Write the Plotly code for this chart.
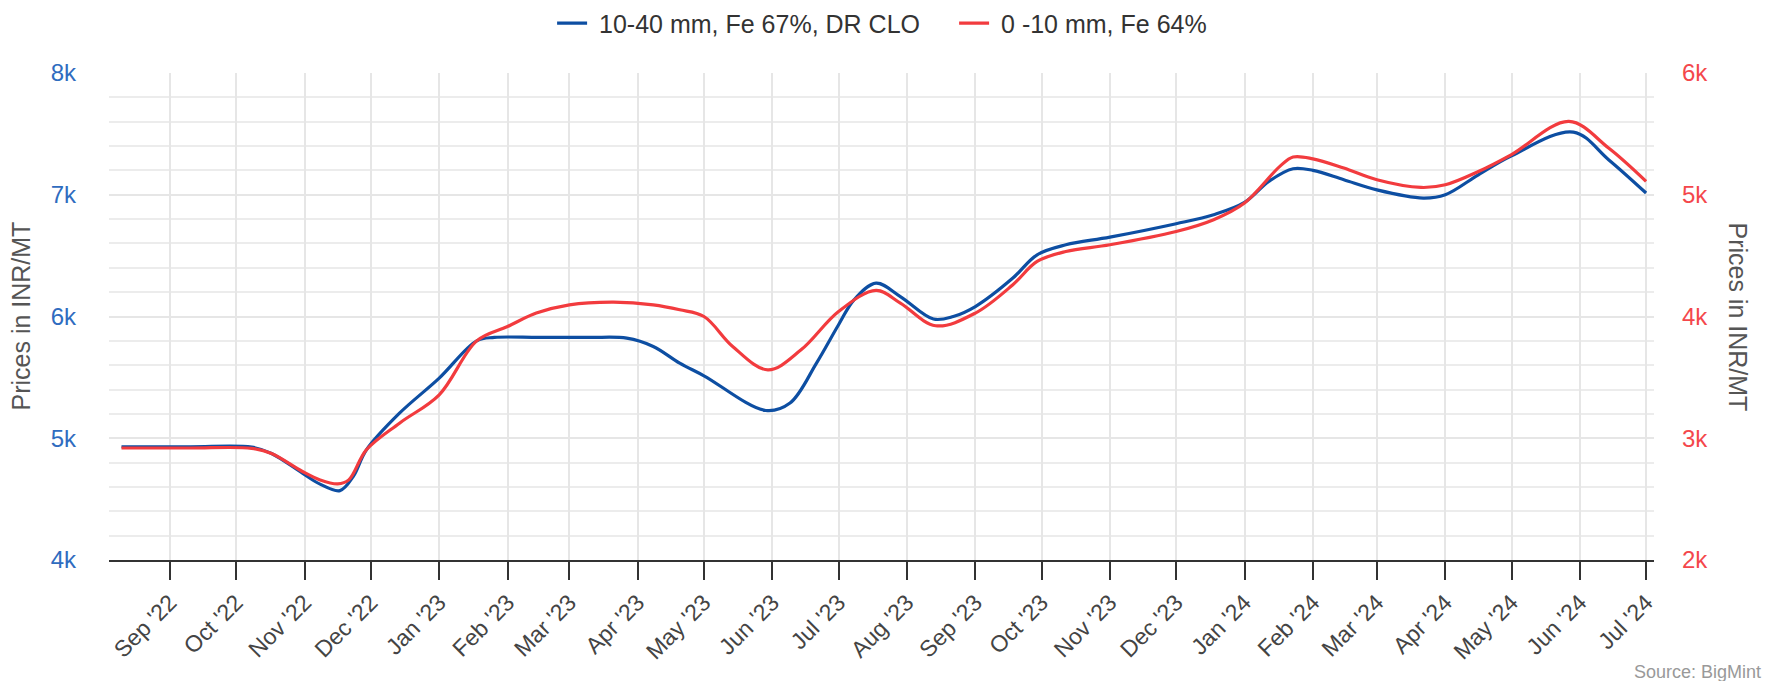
import plotly.graph_objects as go

# ---- data ----
blue_name = "10-40 mm, Fe 67%, DR CLO"
blue_dates = ["2022-08-10", "2022-09-10", "2022-10-08", "2022-10-17", "2022-10-31",
              "2022-11-08", "2022-11-17", "2022-11-23", "2022-11-29", "2022-12-14",
              "2023-01-01", "2023-01-18", "2023-01-26", "2023-02-15", "2023-03-10",
              "2023-03-27", "2023-04-08", "2023-04-20", "2023-05-01",
              "2023-05-29", "2023-06-09", "2023-06-21", "2023-07-01",
              "2023-07-08", "2023-07-18", "2023-07-29", "2023-08-13", "2023-08-22",
              "2023-09-01", "2023-09-18", "2023-09-29", "2023-10-12", "2023-11-01",
              "2023-12-01", "2023-12-18", "2024-01-01", "2024-01-12", "2024-01-23",
              "2024-02-01", "2024-02-15", "2024-03-01", "2024-03-22", "2024-04-01",
              "2024-04-16", "2024-05-01", "2024-05-29", "2024-06-14",
              "2024-07-01"]
blue_vals = [4930, 4930, 4927, 4875, 4713,
             4623, 4570, 4685, 4905, 5206,
             5494, 5800, 5828, 5828, 5828,
             5822, 5754, 5617, 5513,
             5228, 5289, 5617, 5932,
             6137, 6274, 6164, 5979, 6000,
             6082, 6316, 6507, 6589, 6652,
             6762, 6836, 6937, 7110, 7214,
             7200, 7123, 7040, 6973, 7000,
             7164, 7320, 7515, 7288,
             7014]

red_name = "0 -10 mm, Fe 64%"
red_dates = ["2022-08-10", "2022-09-10", "2022-10-08", "2022-10-17", "2022-10-31",
             "2022-11-08", "2022-11-16", "2022-11-21", "2022-11-29", "2022-12-14",
             "2023-01-01", "2023-01-18", "2023-02-01", "2023-02-14", "2023-03-01",
             "2023-03-21", "2023-04-08", "2023-04-20", "2023-05-01", "2023-05-14",
             "2023-05-30", "2023-06-14", "2023-07-01", "2023-07-18", "2023-07-29",
             "2023-08-14", "2023-09-01", "2023-09-18", "2023-09-29", "2023-10-12",
             "2023-11-01", "2023-12-01", "2023-12-18", "2024-01-01", "2024-01-17",
             "2024-01-23", "2024-02-01", "2024-02-15", "2024-03-01", "2024-03-21",
             "2024-04-01", "2024-04-16", "2024-05-01", "2024-05-27",
             "2024-06-14", "2024-07-01"]
red_vals = [2920, 2920, 2917, 2875, 2727,
            2658, 2625, 2658, 2905, 3124,
            3357, 3800, 3918, 4028, 4096,
            4118, 4096, 4055, 4000, 3754,
            3562, 3726, 4041, 4214, 4110,
            3924, 4028, 4261, 4452, 4534,
            4589, 4698, 4795, 4932, 5233,
            5310, 5295, 5219, 5123, 5060,
            5082, 5191, 5330, 5602,
            5384, 5110]

left_ticks = [4000, 5000, 6000, 7000, 8000]
left_labels = ["4k", "5k", "6k", "7k", "8k"]
right_ticks = [2000, 3000, 4000, 5000, 6000]
right_labels = ["2k", "3k", "4k", "5k", "6k"]
axis_title = "Prices in INR/MT"
source_text = "Source: BigMint"

BLUE = "#0d4ea2"
RED = "#f23b3e"
FONT = "Liberation Sans, Arial, sans-serif"
GRID = "#e6e6e6"
PAD = "\u00a0"  # small gap between legend symbol and text

fig = go.Figure()
fig.add_trace(go.Scatter(x=blue_dates, y=blue_vals, name=PAD + blue_name, mode="lines",
                         line=dict(color=BLUE, width=3.2, shape="spline", smoothing=1.0),
                         yaxis="y"))
fig.add_trace(go.Scatter(x=red_dates, y=red_vals, name=PAD + red_name, mode="lines",
                         line=dict(color=RED, width=3.2, shape="spline", smoothing=1.0),
                         yaxis="y2"))

fig.update_layout(
    width=1781, height=681,
    margin=dict(l=101, r=135, t=65, b=129, autoexpand=False),
    paper_bgcolor="white", plot_bgcolor="white",
    font=dict(family=FONT, color="#444"),
    showlegend=True,
    legend=dict(orientation="h", xref="container", yref="container",
                x=0.3055, xanchor="left", y=0.9775, yanchor="middle",
                font=dict(size=25, color="#333", family=FONT),
                itemwidth=30, entrywidthmode="pixels", entrywidth=357,
                tracegroupgap=0, bgcolor="rgba(0,0,0,0)"),
    xaxis=dict(type="date", range=["2022-08-04 08:00", "2024-07-04 14:00"],
               tick0="2022-09-01", dtick="M1", tickformat="%b '%y",
               tickangle=-45, tickfont=dict(size=23, color="#444"),
               showgrid=True, gridcolor=GRID, gridwidth=1.5,
               ticks="outside", ticklen=18, tickwidth=1.5, tickcolor="#333",
               showline=True, linecolor="#333", linewidth=2, zeroline=False,
               automargin=False),
    yaxis=dict(range=[4000, 8000], tickvals=left_ticks, ticktext=left_labels,
               tickfont=dict(size=24, color="#2f6cbf"),
               showgrid=True, gridcolor=GRID, gridwidth=1.5,
               minor=dict(dtick=200, tick0=4000, showgrid=True, gridcolor="#ececec", gridwidth=1.5),
               zeroline=False, showline=False, ticks="", ticklabelstandoff=32,
               automargin=False),
    yaxis2=dict(range=[2000, 6000], tickvals=right_ticks, ticktext=right_labels,
                overlaying="y", side="right",
                tickfont=dict(size=24, color="#f4474b"),
                showgrid=False, zeroline=False, showline=False, ticks="",
                ticklabelstandoff=27, automargin=False),
    annotations=[
        dict(text=axis_title, xref="paper", yref="paper", x=-0.0576, y=0.5,
             xanchor="center", yanchor="middle", textangle=-90, showarrow=False,
             font=dict(size=25, color="#555", family=FONT)),
        dict(text=axis_title, xref="paper", yref="paper", x=1.0544, y=0.5,
             xanchor="center", yanchor="middle", textangle=90, showarrow=False,
             font=dict(size=25, color="#555", family=FONT)),
        dict(text=source_text, xref="paper", yref="paper", x=1.0705, y=-0.2294,
             xanchor="right", yanchor="middle", showarrow=False,
             font=dict(size=18, color="#999", family=FONT)),
    ],
)

fig.write_html("out.html")
